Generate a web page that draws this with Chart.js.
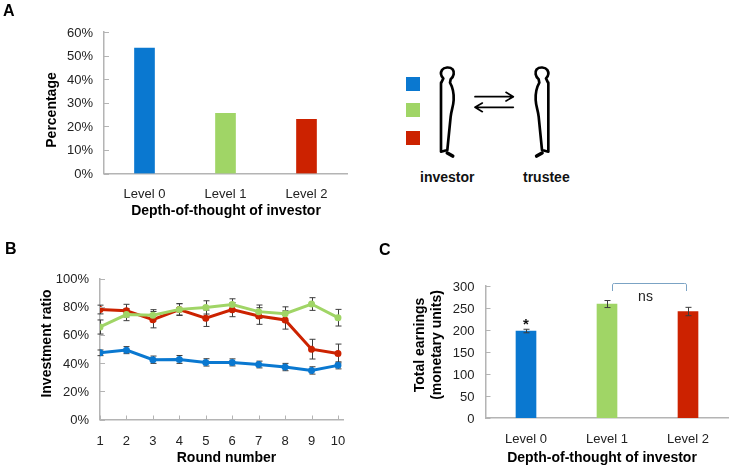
<!DOCTYPE html>
<html>
<head>
<meta charset="utf-8">
<script src="https://cdn.jsdelivr.net/npm/chart.js@4"></script>
<style>
  html, body { margin: 0; padding: 0; background: #fff; }
  #page { position: relative; width: 732px; height: 469px; overflow: hidden; font-family: "Liberation Sans", Arial, sans-serif; }
  #page canvas { position: absolute; }
  .letter { position: absolute; font-weight: bold; font-size: 16px; color: #000; line-height: 16px; }
  .role { position: absolute; font-weight: bold; font-size: 14px; color: #111; line-height: 16px; }
  .swatch { position: absolute; left: 406px; width: 14px; height: 14px; }
</style>
</head>
<body>
<div id="page">
  <canvas id="chartA" width="370" height="230" style="left:0;top:0;width:370px;height:230px"></canvas>
  <canvas id="chartB" width="370" height="239" style="left:0;top:230px;width:370px;height:239px"></canvas>
  <canvas id="chartC" width="362" height="239" style="left:370px;top:230px;width:362px;height:239px"></canvas>

  <div class="letter" style="left:3px;top:3px">A</div>
  <div class="letter" style="left:5px;top:241px">B</div>
  <div class="letter" style="left:379px;top:242px">C</div>

  <div class="swatch" style="top:77px;background:#0a78d0"></div>
  <div class="swatch" style="top:103px;background:#a0d566"></div>
  <div class="swatch" style="top:131px;background:#cc2200"></div>

  <!-- investor / trustee drawing -->
  <svg style="position:absolute;left:430px;top:60px" width="130" height="105" viewBox="0 0 390 315">
    <g fill="none" stroke="#000" stroke-width="8" stroke-linejoin="round" stroke-linecap="round">
      <path id="man" d="M34 68 L40 55 C33 48 31 38 36 30 C42 21 60 20 68 28 C74 36 72 50 62 58 L60 68 C68 82 72 100 71 120 C70 140 64 150 62 170 L52 270 L33 275 L33 68 Z"/>
      <use href="#man" transform="translate(388,0) scale(-1,1)"/>
      <path d="M135 110 H250 M228 97 L250 110 L228 123" stroke-width="5"/>
      <path d="M250 142 H135 M157 129 L135 142 L157 155" stroke-width="5"/>
    </g>
    <g stroke="#000" stroke-width="11" stroke-linecap="round">
      <line x1="52" y1="279" x2="68" y2="288"/>
      <line x1="336" y1="279" x2="320" y2="288"/>
    </g>
  </svg>
  <div class="role" style="left:420px;top:169px">investor</div>
  <div class="role" style="left:523px;top:169px">trustee</div>
</div>

<script>
////////////////////////////////// data \\\\\\\\\\\\\\\\\\\\\\\\\\\\\\\\\\

const levels = ['Level 0', 'Level 1', 'Level 2'];
const percentages = [53.2, 25.5, 23];

const rounds = [1, 2, 3, 4, 5, 6, 7, 8, 9, 10];
const ratioLevel0 = [47.3, 49.2, 42.4, 42.6, 40.5, 40.5, 39, 37.2, 34.8, 38.4];
const ratioLevel1 = [65.6, 74.4, 73.9, 78.1, 79.5, 81.6, 76.5, 75, 81.9, 72.2];
const ratioLevel2 = [78, 77.2, 70.8, 78, 71.8, 77.9, 73.4, 70.6, 49.9, 46.8];
const errLevel0 = [2, 2.5, 2.6, 2.8, 2.6, 2.5, 2.4, 2.6, 2.6, 2.5];
const errLevel1 = [5, 4.3, 4, 4, 4.7, 4, 4.7, 4.9, 4.5, 5.9];
const errLevel2 = [3.1, 4.5, 5.8, 4.2, 5.8, 5, 5.9, 6.5, 7, 6.7];

const earnings = [197.7, 259, 242];
const earningsErr = [4, 8, 9.5];

const blue = '#0a78d0';
const green = '#a0d566';
const red = '#cc2200';
const barColors = [blue, green, red];

const axisColor = '#b4b4b4';
const tickFont = { family: '"Liberation Sans", Arial, sans-serif', size: 13 };

////////////////////////////////// plugins \\\\\\\\\\\\\\\\\\\\\\\\\\\\\\\\\\

// small tick marks pointing into the plot, the way the reference has them
const innerTicks = {
  id: 'innerTicks',
  afterDraw(chart, args, opts) {
    const ctx = chart.ctx;
    const area = chart.chartArea;
    ctx.save();
    ctx.strokeStyle = axisColor;
    ctx.lineWidth = 1;
    chart.scales.y.ticks.forEach(t => {
      const py = Math.round(chart.scales.y.getPixelForValue(t.value)) + 0.5;
      ctx.beginPath();
      ctx.moveTo(area.left, py);
      ctx.lineTo(area.left + 5, py);
      ctx.stroke();
    });
    if (opts.xTicks) {
      chart.scales.x.ticks.forEach(t => {
        const px = Math.round(chart.scales.x.getPixelForValue(t.value)) + 0.5;
        ctx.beginPath();
        ctx.moveTo(px, area.bottom);
        ctx.lineTo(px, area.bottom - 4);
        ctx.stroke();
      });
    }
    ctx.restore();
  }
};

function drawBars(chart, dsIndex, errs) {
  const ctx = chart.ctx;
  const meta = chart.getDatasetMeta(dsIndex);
  const yScale = chart.scales.y;
  const values = chart.data.datasets[dsIndex].data;
  ctx.save();
  ctx.strokeStyle = '#3c3c3c';
  ctx.lineWidth = 1;
  meta.data.forEach((pt, i) => {
    const v = typeof values[i] === 'object' ? values[i].y : values[i];
    const top = yScale.getPixelForValue(v + errs[i]);
    const bottom = yScale.getPixelForValue(v - errs[i]);
    const x = Math.round(pt.x) + 0.5;
    ctx.beginPath();
    ctx.moveTo(x, top);
    ctx.lineTo(x, bottom);
    ctx.moveTo(x - 3, top);
    ctx.lineTo(x + 3, top);
    ctx.moveTo(x - 3, bottom);
    ctx.lineTo(x + 3, bottom);
    ctx.stroke();
  });
  ctx.restore();
}

// error bars, errs is given per dataset in the plugin options
const errorBars = {
  id: 'errorBars',
  beforeDatasetsDraw(chart, args, opts) {
    if (!opts.under) return;
    opts.errs.forEach((e, i) => drawBars(chart, i, e));
  },
  afterDatasetsDraw(chart, args, opts) {
    if (opts.under) return;
    opts.errs.forEach((e, i) => drawBars(chart, i, e));
  }
};

// axis titles sit a bit off centre in the reference so they are drawn here
const axisTexts = {
  id: 'axisTexts',
  afterDraw(chart, args, opts) {
    const ctx = chart.ctx;
    opts.items.forEach(it => {
      ctx.save();
      ctx.translate(it.x, it.y);
      if (it.rot) ctx.rotate(-Math.PI / 2);
      ctx.font = (it.weight || 'bold') + ' ' + (it.size || 14) + 'px "Liberation Sans", Arial, sans-serif';
      ctx.fillStyle = it.color || '#000';
      ctx.textAlign = 'center';
      ctx.textBaseline = 'middle';
      ctx.fillText(it.text, 0, 0);
      ctx.restore();
    });
  }
};

// star over the level 0 bar, and the ns bracket of panel C
const notes = {
  id: 'notes',
  afterDraw(chart) {
    const ctx = chart.ctx;
    const xs = chart.scales.x;
    const ys = chart.scales.y;
    ctx.save();
    ctx.fillStyle = '#111';
    ctx.textAlign = 'center';
    ctx.textBaseline = 'middle';
    ctx.font = 'bold 15px "Liberation Sans", Arial, sans-serif';
    ctx.fillText('*', xs.getPixelForValue(0), ys.getPixelForValue(earnings[0] + 18) + 2);
    ctx.font = '14px "Liberation Sans", Arial, sans-serif';
    ctx.fillStyle = '#222';
    ctx.fillText('ns', 275.5, 67);
    ctx.strokeStyle = '#7ba3c4';
    ctx.lineWidth = 1;
    ctx.beginPath();
    ctx.moveTo(242.5, 61);
    ctx.lineTo(242.5, 54.5);
    ctx.quadraticCurveTo(242.5, 53.5, 244.5, 53.5);
    ctx.lineTo(314.5, 53.5);
    ctx.quadraticCurveTo(316.5, 53.5, 316.5, 54.5);
    ctx.lineTo(316.5, 61);
    ctx.stroke();
    ctx.restore();
  }
};

function yAxis(width, max, step, suffix, pad) {
  return {
    min: 0,
    max: max,
    afterFit(s) { s.width = width; },
    grid: { display: false },
    border: { color: axisColor, width: 1.5 },
    ticks: {
      stepSize: step,
      padding: pad,
      labelOffset: 1,
      color: '#222',
      font: tickFont,
      callback: v => v + suffix
    }
  };
}

function catAxis(height, pad) {
  return {
    afterFit(s) { s.height = height; },
    grid: { display: false },
    border: { color: axisColor, width: 1.5 },
    ticks: { color: '#222', font: tickFont, padding: pad, maxRotation: 0 }
  };
}

////////////////////////////////// panel A \\\\\\\\\\\\\\\\\\\\\\\\\\\\\\\\\\

new Chart(document.getElementById('chartA'), {
  type: 'bar',
  plugins: [innerTicks, axisTexts],
  data: {
    labels: levels,
    datasets: [{ data: percentages, backgroundColor: barColors, barThickness: 20 }]
  },
  options: {
    responsive: false,
    animation: false,
    layout: { padding: { top: 32, right: 23, left: 0, bottom: 0 } },
    scales: { x: catAxis(56.5, 5), y: yAxis(104, 60, 10, '%', 3) },
    plugins: {
      legend: { display: false },
      tooltip: { enabled: false },
      innerTicks: { xTicks: false },
      axisTexts: {
        items: [
          { text: 'Percentage', x: 52.5, y: 110, rot: true },
          { text: 'Depth-of-thought of investor', x: 226, y: 211 }
        ]
      }
    }
  }
});

////////////////////////////////// panel B \\\\\\\\\\\\\\\\\\\\\\\\\\\\\\\\\\

function lineSet(values, color) {
  return {
    data: rounds.map((r, i) => ({ x: r, y: values[i] })),
    borderColor: color,
    backgroundColor: color,
    borderWidth: 3,
    pointRadius: 2,
    tension: 0
  };
}

const roundAxis = catAxis(49.5, 6);
roundAxis.type = 'linear';
roundAxis.min = 1;
roundAxis.max = 10.19;
roundAxis.ticks.stepSize = 1;
roundAxis.ticks.includeBounds = false;

new Chart(document.getElementById('chartB'), {
  type: 'line',
  plugins: [innerTicks, errorBars, axisTexts],
  data: {
    datasets: [lineSet(ratioLevel0, blue), lineSet(ratioLevel1, green), lineSet(ratioLevel2, red)]
  },
  options: {
    responsive: false,
    animation: false,
    layout: { padding: { top: 48.5, right: 27, left: 0, bottom: 0 } },
    scales: { x: roundAxis, y: yAxis(100, 100, 20, '%', 3) },
    plugins: {
      legend: { display: false },
      tooltip: { enabled: false },
      innerTicks: { xTicks: true },
      errorBars: { under: true, errs: [errLevel0, errLevel1, errLevel2] },
      axisTexts: {
        items: [
          { text: 'Investment ratio', x: 47.5, y: 113.5, rot: true },
          { text: 'Round number', x: 226.5, y: 228 }
        ]
      }
    }
  }
});

////////////////////////////////// panel C \\\\\\\\\\\\\\\\\\\\\\\\\\\\\\\\\\

new Chart(document.getElementById('chartC'), {
  type: 'bar',
  plugins: [innerTicks, errorBars, axisTexts, notes],
  data: {
    labels: levels,
    datasets: [{ data: earnings, backgroundColor: barColors, barThickness: 20 }]
  },
  options: {
    responsive: false,
    animation: false,
    layout: { padding: { top: 56, right: 3.5, left: 0, bottom: 0 } },
    scales: { x: catAxis(51, 6), y: yAxis(115.5, 300, 50, '', 3) },
    plugins: {
      legend: { display: false },
      tooltip: { enabled: false },
      innerTicks: { xTicks: false },
      errorBars: { under: false, errs: [earningsErr] },
      axisTexts: {
        items: [
          { text: 'Total earnings', x: 50, y: 115, rot: true },
          { text: '(monetary units)', x: 67.5, y: 115, rot: true },
          { text: 'Depth-of-thought of investor', x: 232, y: 228 }
        ]
      }
    }
  }
});
</script>
</body>
</html>
